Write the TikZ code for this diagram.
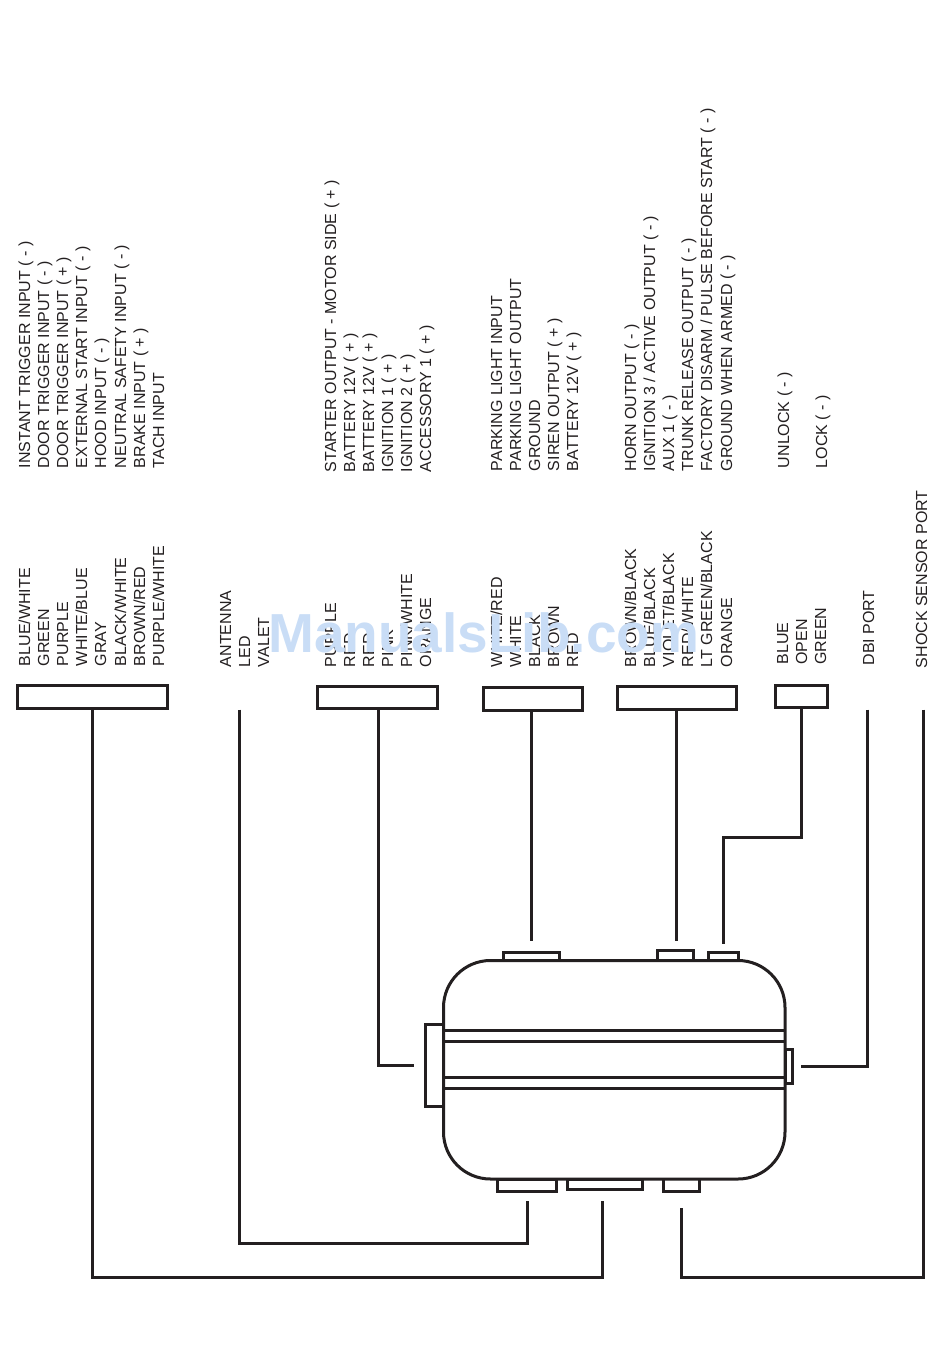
\documentclass[tikz,border=0pt]{standalone}
\usepackage{fontspec}
\setmainfont{Liberation Sans}
\definecolor{ink}{HTML}{231F20}
\definecolor{mark}{HTML}{C9DDF6}
\tikzset{
  x=1pt,y=-1pt,
  lab/.style={rotate=90,anchor=base west,inner sep=0pt,outer sep=0pt,text=ink,yshift=1pt,font=\fontsize{16}{19}\selectfont},
  wire/.style={draw=ink,line width=3pt,line join=miter},
  plug/.style={draw=ink,line width=3pt,fill=white,inner sep=0pt,outer sep=0pt},
  tabbox/.style={draw=ink,line width=3pt,fill=white,inner sep=0pt,outer sep=0pt},
  stripe/.style={draw=ink,line width=3pt},
}
\newcommand{\mybox}[6]{\node[#1,minimum width={(#5)-(#3)},minimum height={(#6)-(#4)}] (#2) at ({((#3)+(#5))/2},{((#4)+(#6))/2}) {};}
\begin{document}
\begin{tikzpicture}
\useasboundingbox (0,0) rectangle (950,1372);
% function labels
\node[lab] (f1) at (31,468) {INSTANT TRIGGER INPUT ( - )};
\node[lab] (f2) at (50,468) {DOOR TRIGGER INPUT ( - )};
\node[lab] (f3) at (69,468) {DOOR TRIGGER INPUT ( + )};
\node[lab] (f4) at (88,468) {EXTERNAL START INPUT ( - )};
\node[lab] (f5) at (107,468) {HOOD INPUT ( - )};
\node[lab] (f6) at (127,468) {NEUTRAL SAFETY INPUT ( - )};
\node[lab] (f7) at (146,468) {BRAKE INPUT ( + )};
\node[lab] (f8) at (165,468) {TACH INPUT};
\node[lab] (g1) at (337,472) {STARTER OUTPUT - MOTOR SIDE ( + )};
\node[lab] (g2) at (356,472) {BATTERY 12V ( + )};
\node[lab] (g3) at (375,472) {BATTERY 12V ( + )};
\node[lab] (g4) at (394,472) {IGNITION 1 ( + )};
\node[lab] (g5) at (413,472) {IGNITION 2 ( + )};
\node[lab] (g6) at (432,472) {ACCESSORY 1 ( + )};
\node[lab] (h1) at (503,471) {PARKING LIGHT INPUT};
\node[lab] (h2) at (522,471) {PARKING LIGHT OUTPUT};
\node[lab] (h3) at (541,471) {GROUND};
\node[lab] (h4) at (560,471) {SIREN OUTPUT ( + )};
\node[lab] (h5) at (579,471) {BATTERY 12V ( + )};
\node[lab] (i1) at (637,471) {HORN OUTPUT ( - )};
\node[lab] (i2) at (656,471) {IGNITION 3 / ACTIVE OUTPUT ( - )};
\node[lab] (i3) at (675,471) {AUX 1 ( - )};
\node[lab] (i4) at (694,471) {TRUNK RELEASE OUTPUT ( - )};
\node[lab] (i5) at (713,471) {FACTORY DISARM / PULSE BEFORE START ( - )};
\node[lab] (i6) at (733,471) {GROUND WHEN ARMED ( - )};
\node[lab] (j1) at (790,468) {UNLOCK ( - )};
\node[lab] (j2) at (828,468) {LOCK ( - )};
% wire colour labels
\node[lab] (a1) at (31,666) {BLUE/WHITE};
\node[lab] (a2) at (50,666) {GREEN};
\node[lab] (a3) at (69,666) {PURPLE};
\node[lab] (a4) at (88,666) {WHITE/BLUE};
\node[lab] (a5) at (107,666) {GRAY};
\node[lab] (a6) at (127,666) {BLACK/WHITE};
\node[lab] (a7) at (146,666) {BROWN/RED};
\node[lab] (a8) at (165,666) {PURPLE/WHITE};
\node[lab] (b1) at (232,667) {ANTENNA};
\node[lab] (b2) at (251,667) {LED};
\node[lab] (b3) at (270,667) {VALET};
\node[lab] (c1) at (337,667) {PURPLE};
\node[lab] (c2) at (356,667) {RED};
\node[lab] (c3) at (375,667) {RED};
\node[lab] (c4) at (394,667) {PINK};
\node[lab] (c5) at (413,667) {PINK/WHITE};
\node[lab] (c6) at (432,667) {ORANGE};
\node[lab] (d1) at (503,667) {WHITE/RED};
\node[lab] (d2) at (522,667) {WHITE};
\node[lab] (d3) at (541,667) {BLACK};
\node[lab] (d4) at (560,667) {BROWN};
\node[lab] (d5) at (579,667) {RED};
\node[lab] (e1) at (637,667) {BROWN/BLACK};
\node[lab] (e2) at (656,667) {BLUE/BLACK};
\node[lab] (e3) at (675,667) {VIOLET/BLACK};
\node[lab] (e4) at (694,667) {RED/WHITE};
\node[lab] (e5) at (713,667) {LT GREEN/BLACK};
\node[lab] (e6) at (733,667) {ORANGE};
\node[lab] (k1) at (789,664.5) {BLUE};
\node[lab] (k2) at (808,664.5) {OPEN};
\node[lab] (k3) at (827,664.5) {GREEN};
\node[lab] (dbi) at (875,665.5) {DBI PORT};
\node[lab] (shock) at (928,668) {SHOCK SENSOR PORT};
% plugs
\mybox{plug}{p1}{17.5}{685.5}{167.5}{708.5}
\mybox{plug}{p2}{317.5}{686.5}{437.5}{708.5}
\mybox{plug}{p3}{483.5}{687.5}{582.5}{710}
\mybox{plug}{p4}{617.5}{686.5}{736.5}{709}
\mybox{plug}{p5}{775.5}{685.5}{827.5}{707.5}
% module tabs
\mybox{tabbox}{t1}{503.5}{952.5}{559.5}{960.5}
\mybox{tabbox}{t2}{657.5}{950}{693.5}{960.5}
\mybox{tabbox}{t3}{708.5}{952.5}{738}{960.5}
\mybox{tabbox}{tl}{425}{1024}{443.5}{1106.5}
\mybox{tabbox}{tr}{785}{1049.5}{792.5}{1083}
\mybox{tabbox}{b1t}{497.5}{1179}{556.5}{1191.5}
\mybox{tabbox}{b2t}{567}{1179}{642.5}{1189.5}
\mybox{tabbox}{b3t}{663.5}{1178}{699.5}{1191}
% module body
\node[draw=ink,line width=3pt,fill=white,rounded corners=47pt,inner sep=0pt,outer sep=0pt,
  minimum width=341.5pt,minimum height=218.5pt] (unit) at (614.25,1069.75) {};
\draw[stripe] (unit.west |- 0,1030.4) -- (unit.east |- 0,1030.4);
\draw[stripe] (unit.west |- 0,1041.5) -- (unit.east |- 0,1041.5);
\draw[stripe] (unit.west |- 0,1077.5) -- (unit.east |- 0,1077.5);
\draw[stripe] (unit.west |- 0,1088.5) -- (unit.east |- 0,1088.5);
% free ends of the connectors
\coordinate (wA1) at (92.5,1277);
\coordinate (wA2) at (602,1277);
\coordinate (wA3) at (602,1201);
\coordinate (wB0) at (239.5,709.5);
\coordinate (wB1) at (239.5,1243);
\coordinate (wB2) at (527,1243);
\coordinate (wB3) at (527,1201);
\coordinate (wC1) at (378,1065.5);
\coordinate (wC2) at (414,1065.5);
\coordinate (wD0) at (531,710);
\coordinate (wD1) at (531,941);
\coordinate (wE1) at (676,941);
\coordinate (wF1) at (801,837);
\coordinate (wF2) at (723,837);
\coordinate (wF3) at (723,944);
\coordinate (wG0) at (867,709.5);
\coordinate (wG1) at (867,1066);
\coordinate (wG2) at (801,1066);
\coordinate (wH0) at (923,709.5);
\coordinate (wH1) at (923,1277);
\coordinate (wH2) at (681.5,1277);
\coordinate (wH3) at (681.5,1208);
% connectors
\draw[wire] (p1.south) -- (wA1) -- (wA2) -- (wA3);
\draw[wire] (wB0) -- (wB1) -- (wB2) -- (wB3);
\draw[wire] (p2.south -| wC1) -- (wC1) -- (wC2);
\draw[wire] (wD0) -- (wD1);
\draw[wire] (p4.south -| wE1) -- (wE1);
\draw[wire] (p5.south -| wF1) -- (wF1) -- (wF2) -- (wF3);
\draw[wire] (wG0) -- (wG1) -- (wG2);
\draw[wire] (wH0) -- (wH1) -- (wH2) -- (wH3);
% watermark
\node[anchor=base west,inner sep=0pt,text=mark,font=\fontsize{55}{60}\selectfont\bfseries] (wm) at (268,652) {ManualsLib.com};
\end{tikzpicture}
\end{document}
